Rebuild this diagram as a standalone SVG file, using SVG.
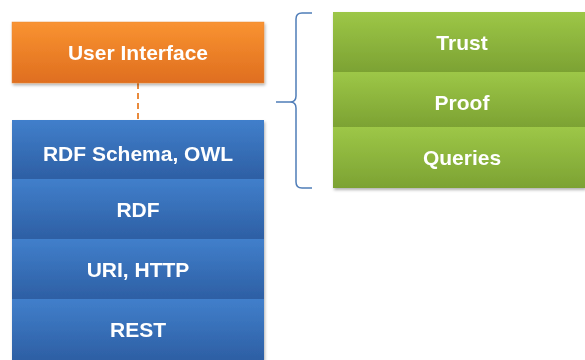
<svg xmlns="http://www.w3.org/2000/svg" width="585" height="360" viewBox="0 0 585 360">
<defs>
<linearGradient id="gO" x1="0" y1="0" x2="0" y2="1"><stop offset="0" stop-color="#F99331"/><stop offset="1" stop-color="#DF6E1F"/></linearGradient>
<linearGradient id="gB" x1="0" y1="0" x2="0" y2="1"><stop offset="0" stop-color="#417FCB"/><stop offset="1" stop-color="#2D5FA4"/></linearGradient>
<linearGradient id="gG" x1="0" y1="0" x2="0" y2="1"><stop offset="0" stop-color="#9DC747"/><stop offset="1" stop-color="#7CA233"/></linearGradient>
<filter id="sh" x="-10%" y="-10%" width="120%" height="130%"><feDropShadow dx="1" dy="2" stdDeviation="1.5" flood-color="#000" flood-opacity="0.3"/></filter>
</defs>
<style>
text{font-family:"Liberation Sans",Arial,sans-serif;font-weight:bold;font-size:21px;fill:#fff;text-anchor:middle}
.o{fill:url(#gO);stroke:#E58A3A;stroke-width:0.5}
.b{fill:url(#gB)}
.g{fill:url(#gG)}
</style>
<rect width="585" height="360" fill="#fff"/>
<g id="connectors">
<line x1="138" y1="83" x2="138" y2="120" stroke="#E98A3C" stroke-width="2" stroke-dasharray="6,4"/>
<path d="M312,13 H302 Q296,13 296,19 V96 Q296,102 290,102 H276 M290,102 Q296,102 296,108 V182 Q296,188 302,188 H312" fill="none" stroke="#4F7DB8" stroke-width="1.5"/>
</g>
<g id="ui" filter="url(#sh)"><rect class="o" x="12" y="22" width="252" height="61"/><text x="138" y="60">User Interface</text></g>
<g id="blue" filter="url(#sh)">
<g id="rdfs"><rect class="b" x="12" y="120" width="252" height="59"/><text x="138" y="161">RDF Schema, OWL</text></g>
<g id="rdf"><rect class="b" x="12" y="179" width="252" height="60"/><text x="138" y="217">RDF</text></g>
<g id="uri"><rect class="b" x="12" y="239" width="252" height="60"/><text x="138" y="277">URI, HTTP</text></g>
<g id="rest"><rect class="b" x="12" y="299" width="252" height="61"/><text x="138" y="337">REST</text></g>
</g>
<g id="green" filter="url(#sh)">
<g id="trust"><rect class="g" x="333" y="12" width="252" height="60"/><text x="462" y="50">Trust</text></g>
<g id="proof"><rect class="g" x="333" y="72" width="252" height="55"/><text x="462" y="110">Proof</text></g>
<g id="queries"><rect class="g" x="333" y="127" width="252" height="61"/><text x="462" y="165">Queries</text></g>
</g>
</svg>
